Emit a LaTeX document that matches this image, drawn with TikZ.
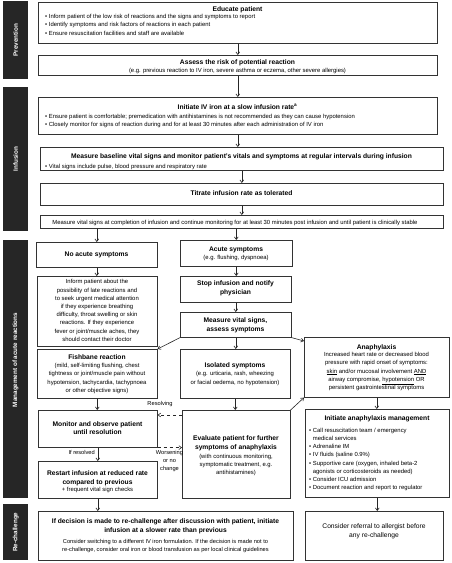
\documentclass[tikz,border=0pt]{standalone}
\usepackage{fontspec}
\setmainfont{Liberation Sans}
\usetikzlibrary{arrows.meta}
\newcommand\ftitle{\fontsize{6.7}{8.8}\selectfont\bfseries}
\newcommand\fbody{\fontsize{5.9}{8.2}\selectfont}
\newcommand\fsm{\fontsize{5.7}{8}\selectfont}
\newcommand\flabel{\fontsize{6.3}{7}\selectfont\bfseries}
\begin{document}
\begin{tikzpicture}[x=1pt,y=-1pt,
 box/.style={draw=black!80, line width=0.6pt, inner sep=0pt, anchor=north west},
 bar/.style={fill=black!85, inner sep=0pt, anchor=north west},
 arr/.style={draw=black!85, line width=0.6pt, -{Straight Barb[length=2.6pt,width=3.8pt]}},
 txt/.style={inner sep=0pt, align=center, font=\fbody},
 ttl/.style={inner sep=0pt, align=center, font=\ftitle},
 lft/.style={inner sep=0pt, anchor=west, align=left, font=\fbody},
 lbl/.style={inner sep=0pt, text=white, font=\flabel, rotate=90},
 sml/.style={inner sep=0pt, align=center, font=\fsm},
]
\useasboundingbox[fill=white] (0,0) rectangle (452,563);

% ---------- side bars ----------
\node[bar, minimum width=25pt, minimum height=78pt] (s1) at (3,1) {};
\node[bar, minimum width=25pt, minimum height=144pt] (s2) at (3,87) {};
\node[bar, minimum width=25pt, minimum height=258pt] (s3) at (3,240) {};
\node[bar, minimum width=25pt, minimum height=56pt] (s4) at (3,504) {};
\node[lbl] (l1) at (s1.center) {Prevention};
\node[lbl] (l2) at (s2.center) {Infusion};
\node[lbl] (l3) at (15.5,360) {Management of acute reactions};
\node[lbl] (l4) at (s4.center) {Re-challenge};

% ---------- boxes ----------
\node[box, minimum width=399pt, minimum height=41pt] (b1) at (38,2) {};
\node[box, minimum width=399pt, minimum height=20pt] (b2) at (38,55) {};
\node[box, minimum width=399pt, minimum height=37pt] (b3) at (38,97) {};
\node[box, minimum width=403pt, minimum height=23pt] (b4) at (40,147) {};
\node[box, minimum width=403pt, minimum height=22pt] (b5) at (40,183) {};
\node[box, minimum width=403pt, minimum height=13pt] (b6) at (40,215) {};
\node[box, minimum width=121pt, minimum height=25pt] (noacute) at (36,242) {};
\node[box, minimum width=112pt, minimum height=26pt] (acute) at (180,240) {};
\node[box, minimum width=120pt, minimum height=70pt] (inform) at (37,276) {};
\node[box, minimum width=111pt, minimum height=26pt] (stop) at (180,276) {};
\node[box, minimum width=111pt, minimum height=25pt] (mvs) at (180,312) {};
\node[box, minimum width=120pt, minimum height=49pt] (fish) at (37,349) {};
\node[box, minimum width=110pt, minimum height=49pt] (iso) at (180,349) {};
\node[box, minimum width=145pt, minimum height=60pt] (ana) at (304,337) {};
\node[box, minimum width=119pt, minimum height=37pt] (mon) at (38,410) {};
\node[box, minimum width=108pt, minimum height=88pt] (eval) at (182,410) {};
\node[box, minimum width=144pt, minimum height=88pt] (mgmt) at (305,409) {};
\node[box, minimum width=119pt, minimum height=37pt] (reinit) at (38,461) {};
\node[box, minimum width=255pt, minimum height=49pt] (ifdec) at (38,511) {};
\node[box, minimum width=138pt, minimum height=49pt] (consider) at (305,511) {};

% ---------- texts ----------
\node[ttl] (t1) at (237.5,10) {Educate patient};
\node[lft] (t1a) at (45,17) {\textbullet\ Inform patient of the low risk of reactions and the signs and symptoms to report};
\node[lft] (t1b) at (45,25) {\textbullet\ Identify symptoms and risk factors of reactions in each patient};
\node[lft] (t1c) at (45,33) {\textbullet\ Ensure resuscitation facilities and staff are available};

\node[ttl] (t2) at (237.5,63) {Assess the risk of potential reaction};
\node[txt] (t2a) at (237.5,71) {(e.g. previous reaction to IV iron, severe asthma or eczema, other severe allergies)};

\node[ttl] (t3) at (237.5,107) {Initiate IV iron at a slow infusion rate\textsuperscript{a}};
\node[lft] (t3a) at (45,117) {\textbullet\ Ensure patient is comfortable; premedication with antihistamines is not recommended as they can cause hypotension};
\node[lft] (t3b) at (45,124.5) {\textbullet\ Closely monitor for signs of reaction during and for at least 30 minutes after each administration of IV iron};

\node[ttl] (t4) at (241.5,157) {Measure baseline vital signs and monitor patient's vitals and symptoms at regular intervals during infusion};
\node[lft] (t4a) at (45,166.5) {\textbullet\ Vital signs include pulse, blood pressure and respiratory rate};

\node[ttl] (t5) at (241.5,193.5) {Titrate infusion rate as tolerated};
\node[txt] (t6) at (235,222.5) {Measure vital signs at completion of infusion and continue monitoring for at least 30 minutes post infusion and until patient is clinically stable};

\node[ttl] (t7) at (96.5,255) {No acute symptoms};
\node[ttl] (t8) at (236,250) {Acute symptoms};
\node[txt] (t8a) at (236,257.5) {(e.g. flushing, dyspnoea)};

\node[txt] (t9) at (97,310.5) {Inform patient about the\\possibility of late reactions and\\to seek urgent medical attention\\if they experience breathing\\difficulty, throat swelling or skin\\reactions. If they experience\\fever or joint/muscle aches, they\\should contact their doctor};

\node[ttl] (t10) at (235.5,288.5) {Stop infusion and notify\\physician};
\node[ttl] (t11) at (235.5,325.5) {Measure vital signs,\\assess symptoms};

\node[ttl] (t12) at (97,357) {Fishbane reaction};
\node[txt] (t12a) at (97,378.5) {(mild, self-limiting flushing, chest\\tightness or joint/muscle pain without\\hypotension, tachycardia, tachypnoea\\or other objective signs)};

\node[ttl] (t13) at (235,366) {Isolated symptoms};
\node[txt] (t13a) at (235,378.5) {(e.g. urticaria, rash, wheezing\\or facial oedema, no hypotension)};

\node[ttl] (t14) at (376.5,348) {Anaphylaxis};
\node[txt] (t14a) at (376.5,371.5) {Increased heart rate or decreased blood\\pressure with rapid onset of symptoms:\\\underline{skin} and/or mucosal involvement \underline{AND}\\airway compromise, \underline{hypotension} OR\\persistent gastrointestinal symptoms};

\node[ttl] (t15) at (97.5,428) {Monitor and observe patient\\until resolution};

\node[ttl] (t16) at (236,443.5) {Evaluate patient for further\\symptoms of anaphylaxis};
\node[txt] (t16a) at (236,465) {(with continuous monitoring,\\symptomatic treatment, e.g.\\antihistamines)};

\node[ttl] (t17) at (377,419) {Initiate anaphylaxis management};
\node[lft, font=\fbody, align=left] (t17a) at (309,459.5) {%
\textbullet\ Call resuscitation team / emergency\\
\phantom{\textbullet\ }medical services\\
\textbullet\ Adrenaline IM\\
\textbullet\ IV fluids (saline 0.9\%)\\
\textbullet\ Supportive care (oxygen, inhaled beta-2\\
\phantom{\textbullet\ }agonists or corticosteroids as needed)\\
\textbullet\ Consider ICU admission\\
\textbullet\ Document reaction and report to regulator};

\node[ttl] (t18) at (97.5,478.5) {Restart infusion at reduced rate\\compared to previous};
\node[txt] (t18a) at (97.5,489.5) {+ frequent vital sign checks};

\node[ttl] (t19) at (165.5,526.5) {If decision is made to re-challenge after discussion with patient, initiate\\infusion at a slower rate than previous};
\node[sml] (t19a) at (165.5,546) {Consider switching to a different IV iron formulation. If the decision is made not to\\re-challenge, consider oral iron or blood transfusion as per local clinical guidelines};

\node[txt, font=\ftitle\mdseries] (t20) at (374,531) {Consider referral to allergist before\\any re-challenge};

% ---------- connectors ----------
\draw[arr] (b1) -- (b2);
\draw[arr] (b2) -- (b3);
\draw[arr] (b3.south) -- (b3.south |- b4.north);
\draw[arr] (b4) -- (b5);
\draw[arr] (b5) -- (b6);
\draw[arr] (b6.south -| noacute.north) -- (noacute.north);
\draw[arr] (b6.south -| acute.north) -- (acute.north);
\draw[arr] (noacute.south) -- (noacute.south |- inform.north);
\draw[arr] (acute.south) -- (acute.south |- stop.north);
\draw[arr] (stop) -- (mvs);
\draw[arr] (mvs.south west) -- (fish.north east);
\draw[arr] (mvs.south) -- (mvs.south |- iso.north);
\draw[arr] (mvs.south east) -- ([yshift=-4pt]ana.north west);
\draw[arr] (iso.south) -- (iso.south |- eval.north);
\draw[arr] (eval.north east) -- (ana.south west);
\draw[arr] (ana.south) -- (ana.south |- mgmt.north);
\draw[arr] (fish.south) -- (fish.south |- mon.north);
\draw[arr, dashed] ([yshift=-5pt]eval.north west) coordinate (e1) -- (e1 -| mon.east);
\draw[arr, dashed] (mon.south east) -- (mon.south east -| eval.west);
\draw[arr] (mon.south) -- (mon.south |- reinit.north);
\draw[arr] (reinit.south) -- (reinit.south |- ifdec.north);
\draw[arr] (mgmt.south) -- (mgmt.south |- consider.north);

% ---------- connector labels ----------
\node[sml] (c1) at (160,404) {Resolving};
\node[sml, anchor=east] (c2) at (95,452) {If resolved};
\node[sml, anchor=north] (c3) at (169.5,450) {Worsening\\or no\\change};
\end{tikzpicture}
\end{document}
